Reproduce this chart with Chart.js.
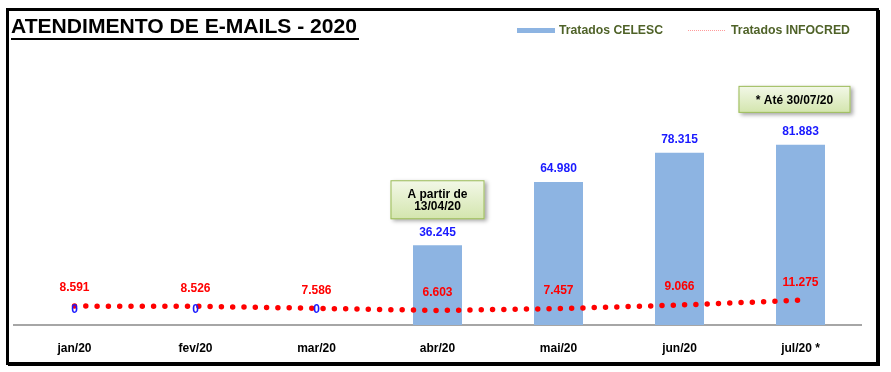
<!DOCTYPE html>
<html>
<head>
<meta charset="utf-8">
<script src="https://cdn.jsdelivr.net/npm/chart.js@4.4.0/dist/chart.umd.min.js"></script>
<style>
  body { margin: 0; background: #fff; }
  #wrap { width: 891px; height: 372px; }
</style>
</head>
<body>
<div id="wrap"><canvas id="emailChart" width="891" height="372"></canvas></div>
<script>
// data
const months = ['jan/20', 'fev/20', 'mar/20', 'abr/20', 'mai/20', 'jun/20', 'jul/20 *'];
const tratadosCelesc = [0, 0, 0, 36245, 64980, 78315, 81883];
const tratadosInfocred = [8591, 8526, 7586, 6603, 7457, 9066, 11275];
const yMax = 100000;
const chartTitle = 'ATENDIMENTO DE E-MAILS - 2020';
// callout notes: which month they sit over + text lines
const noteMonths = [3, 6];
const noteTexts = [['A partir de', '13/04/20'], ['* Até 30/07/20']];

const FONT = 'Arial, "Liberation Sans", sans-serif';

function fmt(n) {
  return String(n).replace(/\B(?=(\d{3})+(?!\d))/g, '.');
}

// draw text squeezed to a given width (the original looks condensed)
function fitText(ctx, txt, x, y, width) {
  const w = ctx.measureText(txt).width;
  ctx.save();
  ctx.translate(x, y);
  ctx.scale(width / w, 1);
  ctx.fillText(txt, 0, 0);
  ctx.restore();
}

const decorPlugin = {
  id: 'decor',
  beforeDraw(chart) {
    const ctx = chart.ctx;
    ctx.save();
    ctx.fillStyle = '#fff';
    ctx.fillRect(0, 0, chart.width, chart.height);
    ctx.restore();
  },
  afterDatasetsDraw(chart) {
    const ctx = chart.ctx;
    const barMeta = chart.getDatasetMeta(0);
    const lineMeta = chart.getDatasetMeta(1);
    ctx.save();
    ctx.font = 'bold 12px ' + FONT;
    ctx.textAlign = 'center';
    // bar values
    ctx.fillStyle = '#1a1aff';
    ctx.textBaseline = 'bottom';
    barMeta.data.forEach((bar, i) => {
      const off = tratadosCelesc[i] === 0 ? 9 : 7;
      ctx.fillText(fmt(tratadosCelesc[i]), bar.x, bar.y - off);
    });
    // line values
    ctx.fillStyle = '#ff0000';
    ctx.textBaseline = 'middle';
    lineMeta.data.forEach((pt, i) => {
      ctx.fillText(fmt(tratadosInfocred[i]), pt.x, pt.y - 18);
    });
    ctx.restore();

    // callouts
    noteMonths.forEach((idx, n) => {
      const bar = barMeta.data[idx];
      const lines = noteTexts[n];
      const w = lines.length > 1 ? 94 : 112;
      const h = lines.length > 1 ? 39 : 27;
      const gap = lines.length > 1 ? 26 : 32;
      const cx = bar.x + (lines.length > 1 ? 0 : -6);
      const x = cx - w / 2;
      const y = bar.y - gap - h;
      ctx.save();
      ctx.shadowColor = 'rgba(0,0,0,0.35)';
      ctx.shadowBlur = 4;
      ctx.shadowOffsetX = 2;
      ctx.shadowOffsetY = 2;
      const g = ctx.createLinearGradient(0, y, 0, y + h);
      g.addColorStop(0, '#f3f8e8');
      g.addColorStop(1, '#d3e5ad');
      ctx.fillStyle = g;
      ctx.fillRect(x, y, w, h);
      ctx.shadowColor = 'transparent';
      ctx.strokeStyle = '#9bbb59';
      ctx.lineWidth = 1;
      ctx.strokeRect(x + 0.5, y + 0.5, w - 1, h - 1);
      ctx.fillStyle = '#000';
      ctx.font = 'bold 12px ' + FONT;
      ctx.textAlign = 'center';
      ctx.textBaseline = 'middle';
      if (lines.length > 1) {
        ctx.fillText(lines[0], cx, y + 14);
        ctx.fillText(lines[1], cx, y + 26);
      } else {
        ctx.fillText(lines[0], cx, y + h / 2 + 1);
      }
      ctx.restore();
    });
  },
  afterDraw(chart) {
    const ctx = chart.ctx;
    ctx.save();
    // frame
    ctx.strokeStyle = '#000';
    ctx.lineWidth = 3;
    ctx.strokeRect(7.5, 9.5, 870, 354);
    ctx.fillStyle = '#000';
    ctx.fillRect(878, 10, 2, 356);
    ctx.fillRect(8, 364, 872, 2);

    // title
    ctx.fillStyle = '#000';
    ctx.font = 'bold 20px ' + FONT;
    ctx.textBaseline = 'alphabetic';
    ctx.textAlign = 'left';
    fitText(ctx, chartTitle, 11, 33, 346);
    ctx.fillRect(11, 38, 348, 2);

    // legend
    const ds = chart.data.datasets;
    ctx.fillStyle = ds[0].backgroundColor;
    ctx.fillRect(517, 28, 38, 5);
    ctx.strokeStyle = '#ff9a9a';
    ctx.lineWidth = 1;
    ctx.setLineDash([1, 1]);
    ctx.beginPath();
    ctx.moveTo(688, 30.5);
    ctx.lineTo(726, 30.5);
    ctx.stroke();
    ctx.setLineDash([]);
    ctx.fillStyle = '#4f6228';
    ctx.font = 'bold 13px ' + FONT;
    ctx.textBaseline = 'middle';
    fitText(ctx, ds[0].label, 559, 30, 104);
    fitText(ctx, ds[1].label, 731, 30, 119);
    ctx.restore();
  }
};

const ctx = document.getElementById('emailChart').getContext('2d');
new Chart(ctx, {
  type: 'bar',
  data: {
    labels: months,
    datasets: [{
      type: 'bar',
      label: 'Tratados CELESC',
      data: tratadosCelesc,
      backgroundColor: '#8db4e2',
      borderWidth: 0,
      categoryPercentage: 1,
      barPercentage: 0.405,
      order: 1
    }, {
      type: 'line',
      label: 'Tratados INFOCRED',
      data: tratadosInfocred,
      borderColor: '#ff0000',
      borderWidth: 5.5,
      borderDash: [0, 11.3],
      borderCapStyle: 'round',
      pointRadius: 0,
      tension: 0,
      fill: false,
      order: 0
    }]
  },
  options: {
    responsive: false,
    animation: false,
    layout: { padding: { left: 14, right: 30, top: 105, bottom: 0 } },
    plugins: {
      legend: { display: false },
      tooltip: { enabled: false },
      title: { display: false }
    },
    scales: {
      x: {
        offset: true,
        grid: { display: false, drawTicks: false },
        border: { display: true, color: '#a6a6a6', width: 2 },
        ticks: {
          color: '#000',
          font: { family: FONT, size: 12, weight: 'bold' },
          padding: 16,
          maxRotation: 0
        },
        afterFit: s => { s.height = 47; }
      },
      y: {
        display: false,
        min: 0,
        max: yMax
      }
    }
  },
  plugins: [decorPlugin]
});
</script>
</body>
</html>
